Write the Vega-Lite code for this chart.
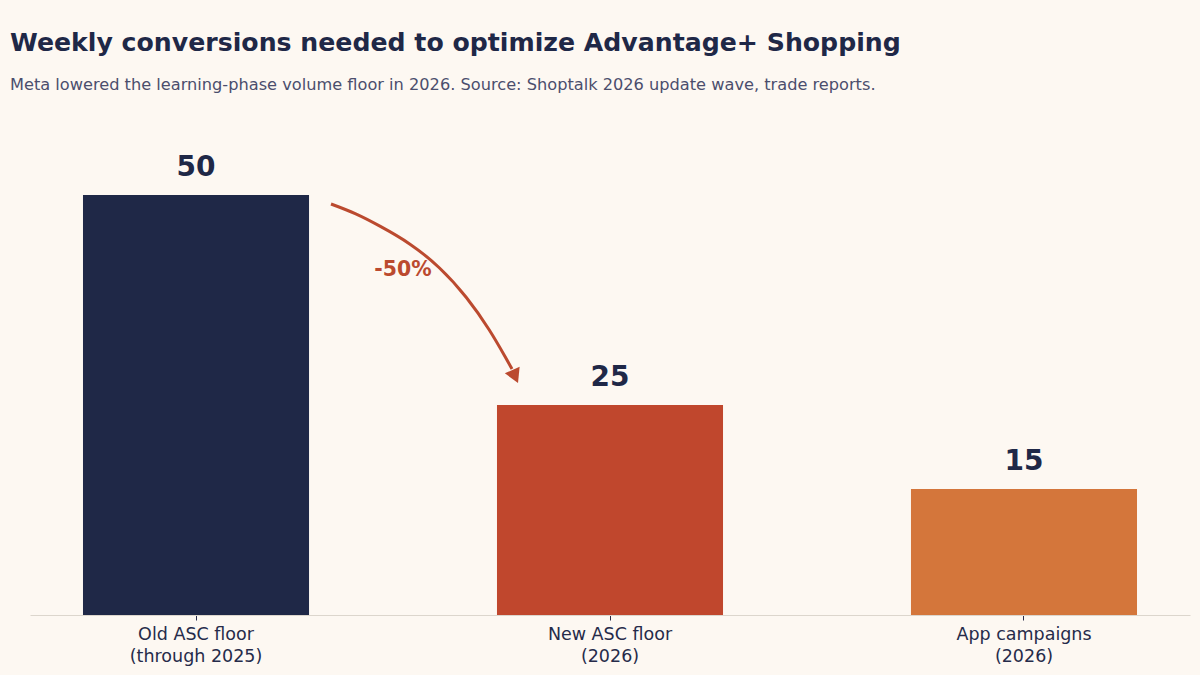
{
  "$schema": "https://vega.github.io/schema/vega-lite/v6.json",
  "width": 1160,
  "height": 504,
  "autosize": "none",
  "padding": {"left": 30, "top": 111, "right": 10, "bottom": 60},
  "background": "#fdf8f2",
  "config": {"view": {"stroke": null}, "font": "DejaVu Sans"},
  "title": {
    "text": "Weekly conversions needed to optimize Advantage+ Shopping",
    "subtitle": "Meta lowered the learning-phase volume floor in 2026. Source: Shoptalk 2026 update wave, trade reports.",
    "anchor": "start",
    "frame": "group",
    "dx": -20,
    "offset": 18,
    "font": "DejaVu Sans",
    "fontSize": 25.2,
    "fontWeight": "bold",
    "color": "#1f2847",
    "subtitleFont": "DejaVu Sans",
    "subtitleFontSize": 16.2,
    "subtitleColor": "#4b4e6d",
    "subtitlePadding": 21
  },
  "layer": [
    {
      "data": {
        "values": [
          {"category": "Old ASC floor|(through 2025)", "value": 50, "group": "old"},
          {"category": "New ASC floor|(2026)", "value": 25, "group": "new"},
          {"category": "App campaigns|(2026)", "value": 15, "group": "app"}
        ]
      },
      "encoding": {
        "x": {
          "field": "category",
          "type": "nominal",
          "sort": null,
          "scale": {"paddingInner": 0.454, "paddingOuter": 0.128},
          "axis": {
            "title": null,
            "labelAngle": 0,
            "labelExpr": "split(datum.label, '|')",
            "labelFontSize": 17.5,
            "labelColor": "#262b4a",
            "labelLineHeight": 22,
            "labelPadding": 5,
            "domainColor": "#dcd6cd",
            "domainWidth": 1,
            "tickColor": "#262b4a",
            "tickSize": 5,
            "tickWidth": 1
          }
        },
        "y": {
          "field": "value",
          "type": "quantitative",
          "scale": {"domain": [0, 60]},
          "axis": null
        }
      },
      "layer": [
        {
          "mark": {"type": "bar"},
          "encoding": {
            "color": {
              "field": "group",
              "type": "nominal",
              "scale": {"domain": ["old", "new", "app"], "range": ["#1f2847", "#c0472d", "#d4763b"]},
              "legend": null
            }
          }
        },
        {
          "mark": {"type": "text", "baseline": "alphabetic", "dy": -19, "fontSize": 28, "fontWeight": "bold", "color": "#1f2847"},
          "encoding": {"text": {"field": "value", "type": "quantitative"}}
        }
      ]
    },
    {
      "layer": [
        {
          "data": {
            "values": [
              {"px": 0.3261, "py": 48.93, "o": 1},
              {"px": 0.3841, "py": 47.86, "o": 2},
              {"px": 0.4444, "py": 46.31, "o": 3},
              {"px": 0.5169, "py": 44.29, "o": 4},
              {"px": 0.5894, "py": 41.43, "o": 5},
              {"px": 0.6546, "py": 37.86, "o": 6},
              {"px": 0.7101, "py": 33.93, "o": 7},
              {"px": 0.7512, "py": 30.36, "o": 8},
              {"px": 0.7633, "py": 29.29, "o": 9}
            ]
          },
          "mark": {"type": "line", "color": "#bb4a2f", "strokeWidth": 3, "interpolate": "basis", "strokeCap": "butt"},
          "encoding": {
            "x": {"field": "px", "type": "quantitative", "scale": {"domain": [-0.401, 2.401]}, "axis": null},
            "y": {"field": "py", "type": "quantitative", "scale": {"domain": [0, 60]}, "axis": null},
            "order": {"field": "o"}
          }
        },
        {
          "data": {"values": [{"px": 0.7778, "py": 27.62}]},
          "mark": {"type": "point", "shape": "M0,0L-1.32,-0.969L0.162,-1.629Z", "filled": true, "size": 400, "color": "#bb4a2f", "opacity": 1, "strokeWidth": 0},
          "encoding": {
            "x": {"field": "px", "type": "quantitative", "scale": {"domain": [-0.401, 2.401]}, "axis": null},
            "y": {"field": "py", "type": "quantitative", "scale": {"domain": [0, 60]}, "axis": null}
          }
        },
        {
          "data": {"values": [{"px": 0.5, "py": 41.07, "label": "-50%"}]},
          "mark": {"type": "text", "fontSize": 20.4, "fontWeight": "bold", "color": "#bb4a2f", "baseline": "middle", "align": "center"},
          "encoding": {
            "x": {"field": "px", "type": "quantitative", "scale": {"domain": [-0.401, 2.401]}, "axis": null},
            "y": {"field": "py", "type": "quantitative", "scale": {"domain": [0, 60]}, "axis": null},
            "text": {"field": "label"}
          }
        }
      ]
    }
  ],
  "resolve": {"scale": {"x": "independent"}}
}
